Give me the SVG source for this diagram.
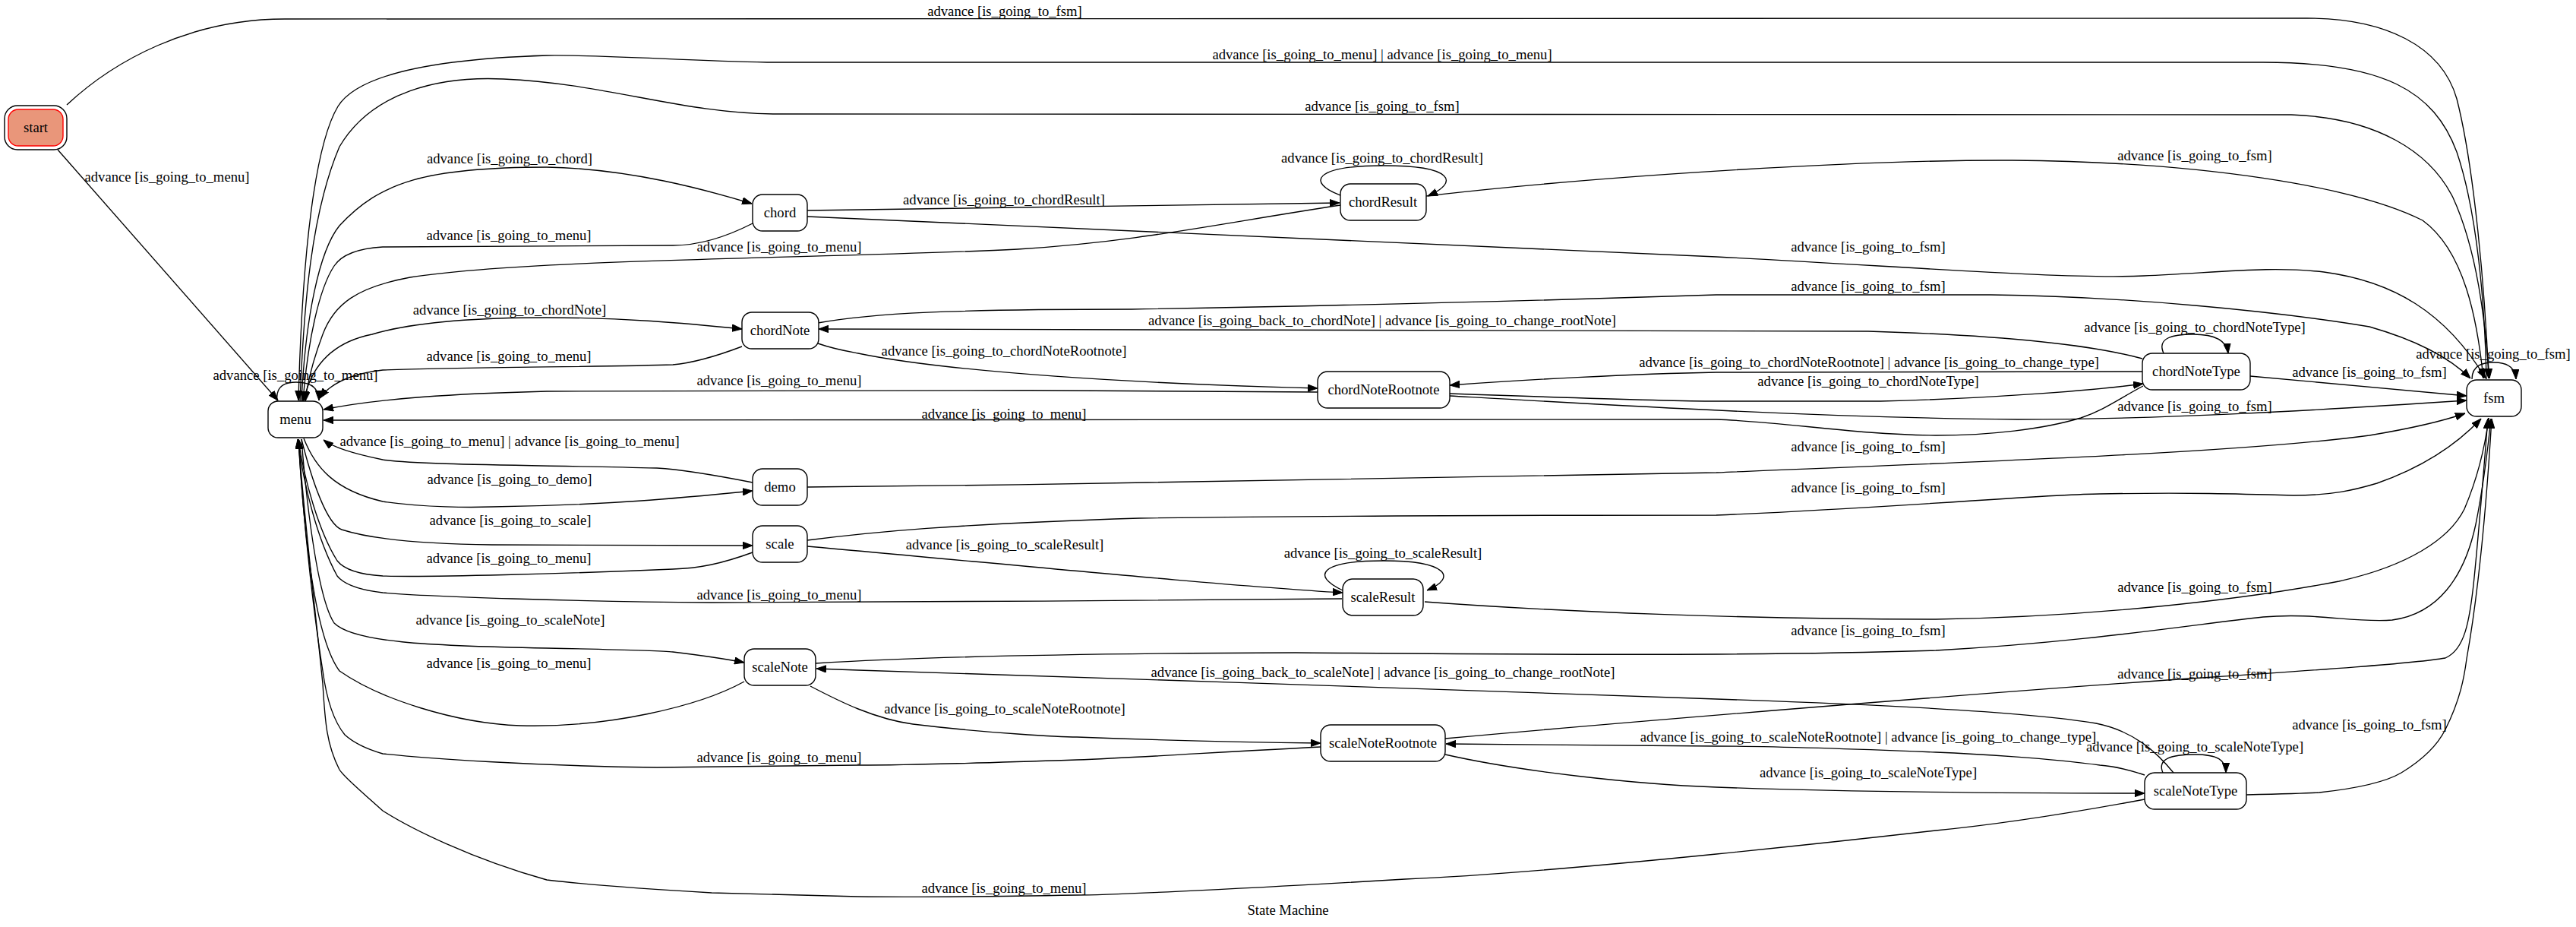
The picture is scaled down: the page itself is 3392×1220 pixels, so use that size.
<svg xmlns="http://www.w3.org/2000/svg" width="3392" height="1220" viewBox="0 0 3392 1220">
<style>
text{font-family:"Liberation Serif","Times New Roman",serif;font-size:18.67px;fill:#000;text-anchor:middle}
.node rect{fill:#fff;stroke:#000;stroke-width:1.4}
.edges path{fill:none;stroke:#000;stroke-width:1.35;marker-end:url(#ah)}
</style>
<defs>
<marker id="ah" viewBox="0 0 13 10" refX="13" refY="5" markerWidth="13" markerHeight="10" markerUnits="userSpaceOnUse" orient="auto">
<path d="M0,0.3 L13,5 L0,9.7 z" fill="#000" stroke="#000" stroke-width="1"/>
</marker>
</defs>
<rect x="0" y="0" width="3392" height="1220" fill="#fff"/>
<g class="edges" id="edges">
<path d="M88,138 C150,80 250,25 375,25 L3038,24 C3140,24 3215,60 3235,130 C3258,220 3272,380 3277,498"/>
<text x="1323" y="21">advance [is_going_to_fsm]</text>
<path d="M76,197 L366,527"/>
<text x="220" y="239">advance [is_going_to_menu]</text>
<path d="M3274,499 C3272,400 3262,280 3235,200 C3205,120 3140,82 2980,82 L1010,82 C900,80 800,72 720,73 C560,78 470,100 445,140 C415,190 398,330 393,527"/>
<text x="1820" y="78">advance [is_going_to_menu] | advance [is_going_to_menu]</text>
<path d="M395,528 C400,400 410,280 447,193 C490,120 580,100 663,104 C800,110 900,150 1023,150 L3017,151 C3130,155 3200,200 3230,260 C3262,330 3272,420 3278,498"/>
<text x="1820" y="146">advance [is_going_to_fsm]</text>
<path d="M397,528 C402,420 420,330 447,297 C500,240 560,220 720,220 C830,222 930,250 990,268"/>
<text x="671" y="215">advance [is_going_to_chord]</text>
<path d="M991,294 C950,315 915,323 886,323 L504,325 C470,327 450,335 440,350 C420,380 405,450 399,528"/>
<text x="670" y="316">advance [is_going_to_menu]</text>
<path d="M1063,277 L1764,267"/>
<text x="1322" y="269">advance [is_going_to_chordResult]</text>
<path d="M1765,257 C1720,240 1730,218 1822,218 C1914,218 1922,240 1880,258"/>
<text x="1820" y="214">advance [is_going_to_chordResult]</text>
<path d="M1878,258 C2100,232 2450,210 2650,211 C2900,213 3100,245 3190,290 C3245,330 3262,420 3270,498"/>
<text x="2890" y="211">advance [is_going_to_fsm]</text>
<path d="M1765,270 C1600,295 1500,318 1340,328 C1100,340 700,340 540,365 C470,378 440,400 425,440 C410,480 404,510 402,528"/>
<text x="1026" y="331">advance [is_going_to_menu]</text>
<path d="M1063,285 L2260,338 C2500,350 2720,368 2823,363 C2930,358 2990,350 3060,358 C3150,370 3220,410 3273,498"/>
<text x="2460" y="331">advance [is_going_to_fsm]</text>
<path d="M1077,425 C1150,412 1250,407 1490,407 C1900,400 2200,390 2260,388 L2621,388 C2800,390 3000,410 3120,430 C3190,450 3230,475 3253,498"/>
<text x="2460" y="383">advance [is_going_to_fsm]</text>
<path d="M400,527 C410,480 440,450 490,440 C540,425 620,418 720,418 C820,418 900,425 977,433"/>
<text x="671" y="414">advance [is_going_to_chordNote]</text>
<path d="M2821,472 C2740,450 2600,440 2460,436 C2200,432 1700,432 1078,433"/>
<text x="1820" y="428">advance [is_going_back_to_chordNote] | advance [is_going_to_change_rootNote]</text>
<path d="M2849,465 C2840,445 2860,440 2888,440 C2915,440 2932,448 2934,465"/>
<text x="2890" y="437">advance [is_going_to_chordNoteType]</text>
<path d="M3255,499 C3255,480 3270,477 3284,477 C3300,477 3312,482 3313,499"/>
<text x="3283" y="472">advance [is_going_to_fsm]</text>
<path d="M1077,452 C1100,460 1120,463 1130,465 C1250,490 1500,505 1735,511"/>
<text x="1322" y="468">advance [is_going_to_chordNoteRootnote]</text>
<path d="M977,456 C940,470 910,478 886,480 C800,483 600,483 504,487 C460,492 435,505 421,524"/>
<text x="670" y="475">advance [is_going_to_menu]</text>
<path d="M2821,489 L2260,490 C2150,492 2000,500 1909,507"/>
<text x="2461" y="483">advance [is_going_to_chordNoteRootnote] | advance [is_going_to_change_type]</text>
<path d="M2963,495 L3248,521"/>
<text x="3120" y="496">advance [is_going_to_fsm]</text>
<path d="M365,528 C362,505 380,503 390,503 C405,503 420,508 420,527"/>
<text x="389" y="500">advance [is_going_to_menu]</text>
<path d="M1735,516 C1400,513 900,512 720,515 C600,518 500,524 426,539"/>
<text x="1026" y="507">advance [is_going_to_menu]</text>
<path d="M1909,518 C2050,523 2200,528 2260,528 L2476,528 C2600,525 2750,515 2822,505"/>
<text x="2460" y="508">advance [is_going_to_chordNoteType]</text>
<path d="M1909,521 C2100,532 2400,550 2657,552 C2850,552 3050,540 3248,527"/>
<text x="2890" y="541">advance [is_going_to_fsm]</text>
<path d="M2822,508 C2790,525 2770,540 2740,550 C2690,565 2620,573 2549,573 C2440,572 2350,555 2260,552 L426,553"/>
<text x="1322" y="551">advance [is_going_to_menu]</text>
<path d="M991,635 C940,625 900,618 865,616 C700,612 550,612 504,605 C470,598 440,590 426,579"/>
<text x="671" y="587">advance [is_going_to_menu] | advance [is_going_to_menu]</text>
<path d="M1063,641 C1500,637 2000,628 2260,622 C2600,608 2950,596 3120,573 C3180,563 3220,553 3246,544"/>
<text x="2460" y="594">advance [is_going_to_fsm]</text>
<path d="M400,577 C415,615 440,645 504,660 C560,668 620,668 648,667 C800,665 900,655 991,646"/>
<text x="671" y="637">advance [is_going_to_demo]</text>
<path d="M1063,711 C1150,700 1250,690 1500,682 C1800,678 2100,678 2260,678 C2500,668 2700,650 2765,650 C2880,648 2950,650 3020,652 C3070,652 3100,645 3130,636 C3190,615 3235,585 3267,551"/>
<text x="2460" y="648">advance [is_going_to_fsm]</text>
<path d="M397,578 C410,630 430,690 450,697 C490,710 560,716 648,717 L991,718"/>
<text x="672" y="691">advance [is_going_to_scale]</text>
<path d="M1063,719 C1300,740 1600,770 1768,780"/>
<text x="1323" y="723">advance [is_going_to_scaleResult]</text>
<path d="M1768,777 C1725,757 1740,738 1822,738 C1905,738 1920,760 1879,777"/>
<text x="1821" y="734">advance [is_going_to_scaleResult]</text>
<path d="M991,727 C950,742 920,748 886,749 C750,755 560,760 504,758 C470,756 452,748 444,738 C420,700 400,630 393,578"/>
<text x="670" y="741">advance [is_going_to_menu]</text>
<path d="M1876,792 C2050,805 2300,815 2549,815 C2750,812 2950,790 3080,765 C3170,745 3225,710 3245,670 C3262,630 3272,590 3277,550"/>
<text x="2890" y="779">advance [is_going_to_fsm]</text>
<path d="M1767,788 C1500,790 1200,793 937,793 C760,792 560,785 504,780 C470,776 452,768 444,758 C418,710 400,640 392,578"/>
<text x="1026" y="789">advance [is_going_to_menu]</text>
<path d="M397,578 C405,680 420,790 440,820 C465,845 560,850 720,853 C820,855 870,856 886,858 C920,862 950,866 980,872"/>
<text x="672" y="822">advance [is_going_to_scaleNote]</text>
<path d="M1074,873 C1200,865 1400,860 1706,859 C2000,861 2300,864 2549,856 C2750,845 2900,820 2980,812 C3050,806 3100,820 3150,816 C3210,808 3245,760 3260,690 C3270,640 3276,590 3280,551"/>
<text x="2460" y="836">advance [is_going_to_fsm]</text>
<path d="M2862,1017 C2840,990 2810,962 2760,952 C2680,938 2500,928 2260,920 C1900,908 1500,893 1130,882 L1075,880"/>
<text x="1821" y="891">advance [is_going_back_to_scaleNote] | advance [is_going_to_change_rootNote]</text>
<path d="M980,897 C920,930 800,958 685,955 C600,952 500,920 447,883 C415,840 400,700 393,578"/>
<text x="670" y="879">advance [is_going_to_menu]</text>
<path d="M1903,972 C2200,945 2700,905 2900,892 C3050,882 3180,873 3220,866 C3245,855 3252,820 3258,760 C3265,690 3272,600 3276,551"/>
<text x="2890" y="893">advance [is_going_to_fsm]</text>
<path d="M1067,903 C1090,915 1110,925 1130,933 C1160,945 1180,950 1202,953 C1300,965 1400,970 1418,970 C1550,975 1650,977 1739,978"/>
<text x="1323" y="939">advance [is_going_to_scaleNoteRootnote]</text>
<path d="M2958,1046 C3000,1045 3040,1044 3054,1043 C3100,1038 3140,1030 3162,1017 C3190,1000 3210,980 3220,960 C3240,920 3245,890 3248,867 C3260,800 3272,700 3281,551"/>
<text x="3120" y="960">advance [is_going_to_fsm]</text>
<path d="M2848,1017 C2840,998 2860,993 2890,993 C2920,993 2931,1000 2931,1017"/>
<text x="2890" y="989">advance [is_going_to_scaleNoteType]</text>
<path d="M1739,983 C1600,990 1500,997 1418,1000 C1300,1004 1200,1007 1130,1007 C1000,1008 900,1010 865,1010 C700,1008 560,998 504,992 C480,985 465,977 454,967 C440,950 430,920 425,883 C415,820 400,700 393,578"/>
<text x="1026" y="1003">advance [is_going_to_menu]</text>
<path d="M2824,1020 C2800,1012 2780,1008 2765,1007 C2700,998 2600,992 2549,990 C2400,984 2300,982 2260,982 L1904,979"/>
<text x="2460" y="976">advance [is_going_to_scaleNoteRootnote] | advance [is_going_to_change_type]</text>
<path d="M1903,993 C2000,1015 2150,1032 2260,1036 C2450,1043 2650,1044 2824,1044"/>
<text x="2460" y="1023">advance [is_going_to_scaleNoteType]</text>
<path d="M2824,1052 C2700,1075 2600,1088 2549,1093 C2400,1110 2300,1120 2260,1124 C2100,1140 1950,1153 1850,1157 C1600,1172 1450,1178 1418,1178 C1300,1180 1200,1181 1130,1180 C1050,1178 980,1176 937,1175 C850,1170 780,1165 720,1158 C620,1130 540,1090 504,1067 C480,1045 455,1025 447,1013 C430,980 428,950 425,900 C415,800 400,680 393,578"/>
<text x="1322" y="1175">advance [is_going_to_menu]</text>
</g>
<g id="start" class="node">
<rect x="6" y="139" width="82" height="58" rx="17" fill="none" stroke="#f00" stroke-width="1.4"/>
<rect x="11" y="144" width="72" height="48" rx="13" style="fill:#e9967a;stroke:#f00"/>
<text x="47" y="174">start</text>
</g>
<g id="menu" class="node"><rect x="353" y="528" width="72" height="48" rx="13"/><text x="389" y="558">menu</text></g>
<g id="chord" class="node"><rect x="991" y="256" width="72" height="48" rx="13"/><text x="1027" y="286">chord</text></g>
<g id="chordResult" class="node"><rect x="1765" y="242" width="113" height="48" rx="13"/><text x="1821" y="272">chordResult</text></g>
<g id="chordNote" class="node"><rect x="977" y="411" width="101" height="48" rx="13"/><text x="1027" y="441">chordNote</text></g>
<g id="chordNoteRootnote" class="node"><rect x="1735" y="489" width="174" height="48" rx="13"/><text x="1822" y="519">chordNoteRootnote</text></g>
<g id="chordNoteType" class="node"><rect x="2821" y="465" width="142" height="48" rx="13"/><text x="2892" y="495">chordNoteType</text></g>
<g id="fsm" class="node"><rect x="3248" y="500" width="72" height="48" rx="13"/><text x="3284" y="530">fsm</text></g>
<g id="demo" class="node"><rect x="991" y="617" width="72" height="48" rx="13"/><text x="1027" y="647">demo</text></g>
<g id="scale" class="node"><rect x="991" y="692" width="72" height="48" rx="13"/><text x="1027" y="722">scale</text></g>
<g id="scaleResult" class="node"><rect x="1768" y="762" width="106" height="48" rx="13"/><text x="1821" y="792">scaleResult</text></g>
<g id="scaleNote" class="node"><rect x="980" y="854" width="94" height="48" rx="13"/><text x="1027" y="884">scaleNote</text></g>
<g id="scaleNoteRootnote" class="node"><rect x="1739" y="954" width="164" height="48" rx="13"/><text x="1821" y="984">scaleNoteRootnote</text></g>
<g id="scaleNoteType" class="node"><rect x="2824" y="1017" width="134" height="48" rx="13"/><text x="2891" y="1047">scaleNoteType</text></g>
<text x="1696" y="1204">State Machine</text>
</svg>
